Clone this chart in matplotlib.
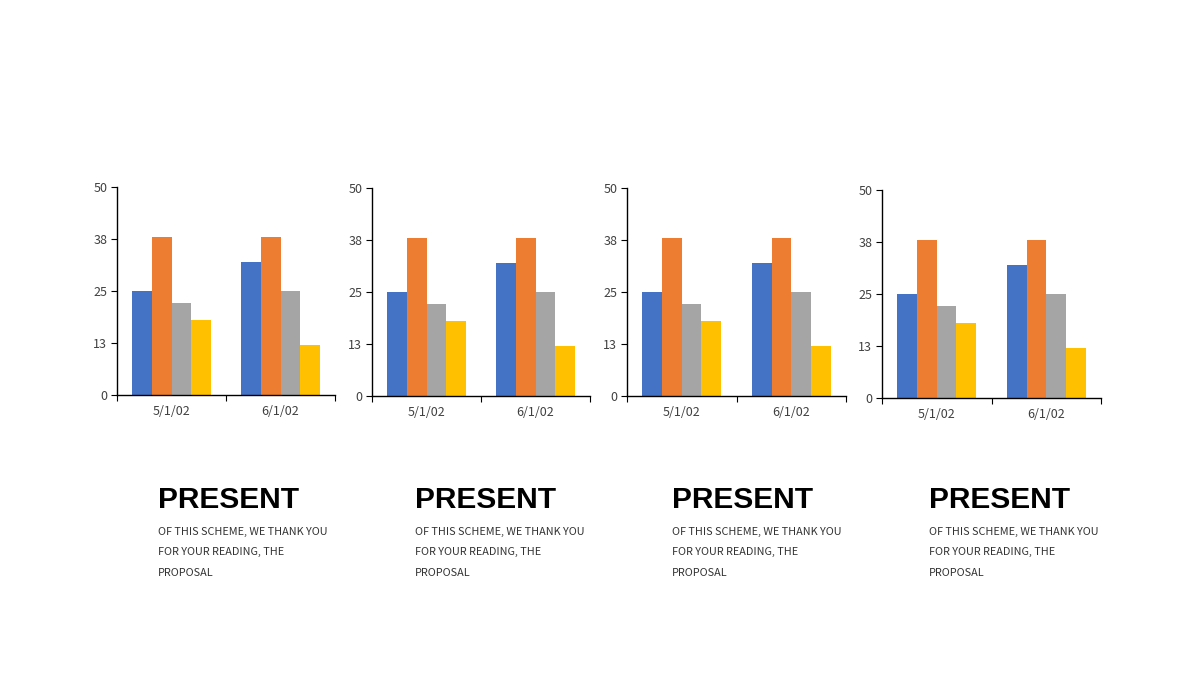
import matplotlib
matplotlib.use("Agg")
import matplotlib.pyplot as plt
import numpy as np

categories = ["5/1/02", "6/1/02"]
series_names = ["Series 1", "Series 2", "Series 3", "Series 4"]
series_values = [
    [25, 32],   # blue
    [38, 38],   # orange
    [22, 25],   # gray
    [18, 12],   # yellow
]
colors = ["#4472C4", "#ED7D31", "#A5A5A5", "#FFC000"]
y_ticks = [0, 12.5, 25, 37.5, 50]
y_tick_labels = ["0", "13", "25", "38", "50"]
title_text = "PRESENT"
body_lines = ["OF THIS SCHEME, WE THANK YOU", "FOR YOUR READING, THE", "PROPOSAL"]

W, H = 1200, 680
fig = plt.figure(figsize=(12, 6.8), dpi=100)

# pixel boxes: (left, top, right, bottom)
boxes = [(117, 187, 335, 395), (372, 188, 590, 396), (627, 188, 846, 396), (882, 190, 1101, 398)]
text_x = [158, 415, 672, 929]

bar_w = 0.18
x = np.arange(len(categories))
for (l, t, r, b), tx in zip(boxes, text_x):
    ax = fig.add_axes([l / W, 1 - b / H, (r - l) / W, (b - t) / H])
    n = len(series_values)
    for i, (vals, c) in enumerate(zip(series_values, colors)):
        offs = (i - (n - 1) / 2) * bar_w
        ax.bar(x + offs, vals, width=bar_w, color=c, edgecolor="none")
    ax.set_xlim(-0.5, len(categories) - 0.5)
    ax.set_ylim(0, 50)
    ax.set_yticks(y_ticks)
    ax.set_yticklabels(y_tick_labels)
    ax.set_xticks(x)
    ax.set_xticklabels(categories)
    ax.tick_params(axis="x", which="major", length=0, pad=7, labelsize=9, labelcolor="#404040")
    ax.set_xticks(np.arange(-0.5, len(categories), 1.0), minor=True)
    ax.tick_params(axis="x", which="minor", length=4, width=0.8, direction="out", color="black")
    ax.tick_params(axis="y", length=4, width=0.8, direction="out", pad=3, labelsize=9, labelcolor="#404040")
    for s in ["top", "right"]:
        ax.spines[s].set_visible(False)
    for s in ["left", "bottom"]:
        ax.spines[s].set_color("black")
        ax.spines[s].set_linewidth(1.0)
    for lab in ax.get_xticklabels() + ax.get_yticklabels():
        lab.set_family(["Noto Sans CJK SC", "DejaVu Sans"])

    fig.text(tx / W, 1 - 508 / H, title_text, fontsize=21.5, fontweight="bold",
             family="Liberation Sans", color="black", ha="left", va="baseline")
    for k, line in enumerate(body_lines):
        fig.text(tx / W, 1 - (531.5 + k * 20.5) / H, line, fontsize=7.8,
                 family=["Noto Sans CJK SC", "DejaVu Sans"], color="#333333",
                 ha="left", va="center")

fig.savefig("out.png", dpi=100, facecolor="white")
